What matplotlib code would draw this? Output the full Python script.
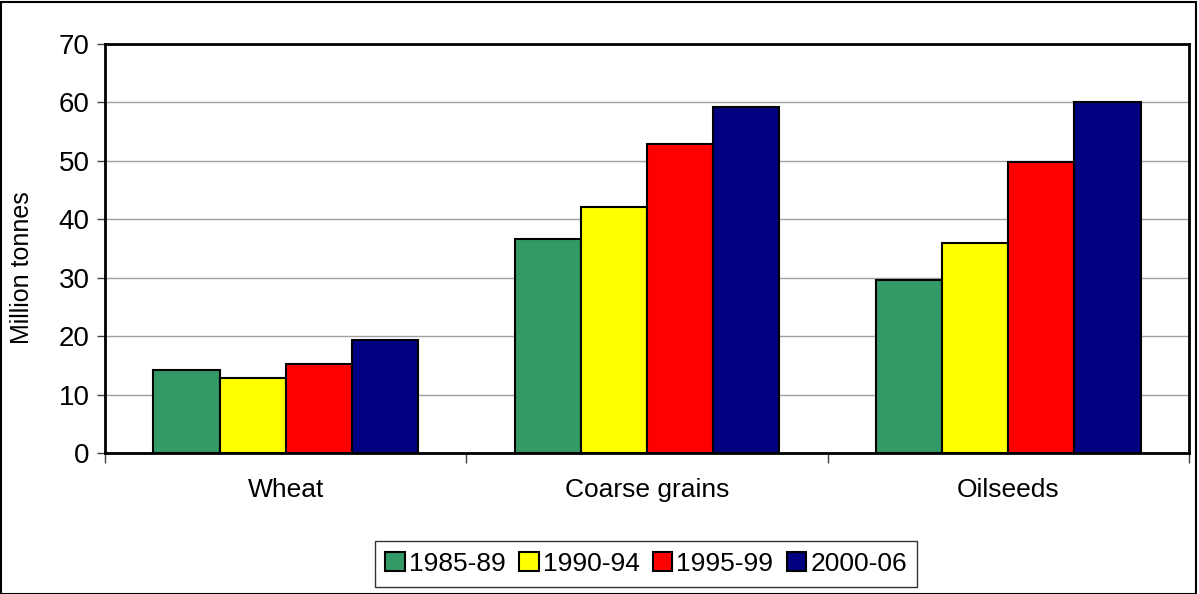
import numpy as np
import matplotlib.pyplot as plt
from matplotlib.patches import Rectangle

plt.rcParams['font.family'] = ['Liberation Sans', 'DejaVu Sans']

categories = ["Wheat", "Coarse grains", "Oilseeds"]
periods = ["1985-89", "1990-94", "1995-99", "2000-06"]
v1985 = [14.2, 36.6, 29.6]
v1990 = [12.8, 42.1, 35.9]
v1995 = [15.3, 52.8, 49.8]
v2000 = [19.4, 59.3, 60.0]
series = [v1985, v1990, v1995, v2000]
colors = ["#339966", "#FFFF00", "#FF0000", "#000080"]

fig = plt.figure(figsize=(11.99, 5.94), dpi=100)
ax = fig.add_axes([105/1199, 1-453/594, 1084/1199, 409/594])

w = 0.183
x = np.arange(len(categories)) + 0.5
for i, (vals, c, lab) in enumerate(zip(series, colors, periods)):
    ax.bar(x + (i - 1.5)*w, vals, w, color=c, edgecolor="black", linewidth=1.5, label=lab, zorder=3)

ax.set_xlim(0, 3)
ax.set_ylim(0, 70)
ax.set_yticks(range(0, 71, 10))
ax.yaxis.grid(True, color="#a0a0a0", linewidth=1)
ax.set_axisbelow(True)
ax.set_xticks(x)
ax.set_xticklabels(categories, fontsize=19)
ax.tick_params(axis="x", length=0, pad=18)
ax.set_xticks([0, 1, 2, 3], minor=True)
ax.tick_params(axis="x", which="minor", length=7, width=1, color="#404040")
ax.tick_params(axis="y", labelsize=20, length=6, width=1, color="#404040", pad=5)
for s in ax.spines.values():
    s.set_linewidth(2)
    s.set_color("black")
fig.text(22/1199, 1-268/594, "Million tonnes", fontsize=18, rotation=90, ha="center", va="center")

leg = ax.legend(loc="center", bbox_to_anchor=(646/1199, 1-564/594), bbox_transform=fig.transFigure,
                ncol=4, fontsize=19, frameon=True, fancybox=False, shadow=False,
                handlelength=0.75, handleheight=0.75, handletextpad=0.15, columnspacing=0.5,
                borderpad=0.4, borderaxespad=0)
leg.get_frame().set_edgecolor("black")
leg.get_frame().set_linewidth(1)

fig.patches.append(Rectangle((1/1199, 0), 1195/1199, 592/594, transform=fig.transFigure,
                             fill=False, edgecolor="black", linewidth=1.5))

fig.savefig("out.png", dpi=100)
